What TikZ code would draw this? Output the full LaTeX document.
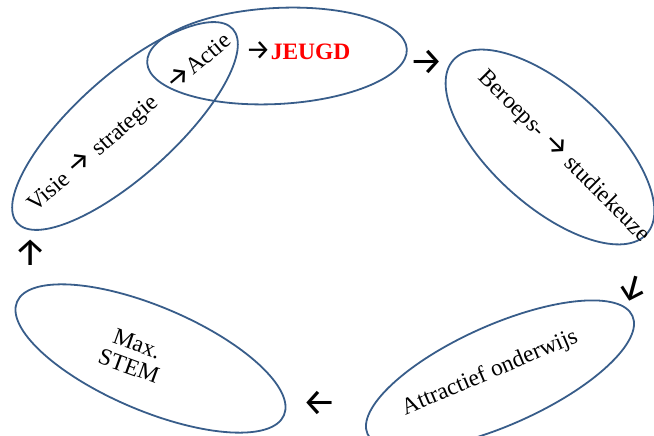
\documentclass[tikz,border=0pt]{standalone}
\usepackage{fontspec}
\setmainfont{Liberation Serif}
\newfontfamily\arrowfont{Fira Sans}
\usetikzlibrary{shapes.geometric}
\definecolor{ringblue}{RGB}{56,93,138}
\definecolor{jeugdred}{RGB}{255,0,0}
\tikzset{
  ring/.style={ellipse, draw=ringblue, line width=1.8pt, inner sep=0pt},
  lbl/.style={inner sep=0pt, font=\fontsize{23.5}{24}\selectfont},
  arr/.style={inner sep=0pt, font=\arrowfont\fontsize{38}{38}\selectfont}
}
\newcommand{\ar}{{\arrowfont\fontsize{28}{28}\selectfont →}}
\begin{document}
\begin{tikzpicture}[x=1pt,y=1pt]
\useasboundingbox (0,0) rectangle (654,436);
% rings
\node[ring, minimum width=290pt, minimum height=100pt, rotate=42] (visie) at (125,310) {};
\node[ring, minimum width=260pt, minimum height=96pt, rotate=3] (jeugd) at (277,380) {};
\node[ring, minimum width=260pt, minimum height=118pt, rotate=-42] (beroeps) at (550,289) {};
\node[ring, minimum width=290pt, minimum height=100pt, rotate=24] (attr) at (500,61) {};
\node[ring, minimum width=290pt, minimum height=104pt, rotate=-23] (stem) at (150.5,77.5) {};
% labels
\node[lbl, rotate=41] (tvisie) at (93,282) {Visie \ar{} strategie};
\node[lbl, rotate=40] (tactie) at (198,375) {\ar Actie};
\node[lbl] (tjeugd) at (298,385) {\ar\textcolor{jeugdred}{\textbf{JEUGD}}};
\node[lbl, rotate=-45] (tberoeps) at (564,280) {Beroeps- \ar{} studiekeuze};
\node[lbl, rotate=23] (tattr) at (490,63) {Attractief onderwijs};
\node[lbl, rotate=-20, align=center] (tstem) at (133,81) {Max.\\STEM};
% cycle arrows
\node[arr] (a1) at (427,374) {→};
\node[arr, rotate=-15] (a2) at (633,147) {↓};
\node[arr] (a3) at (320,33) {←};
\node[arr] (a4) at (31,183) {↑};
\end{tikzpicture}
\end{document}
